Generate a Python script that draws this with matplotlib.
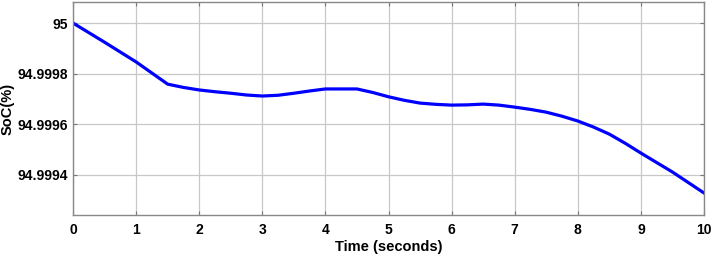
import matplotlib.pyplot as plt

# time (s) and state of charge (%)
time_s = [0, 0.5, 1, 1.5, 1.75, 2, 2.25, 2.5, 2.75, 3, 3.25, 3.5, 3.75, 4, 4.5,
          4.75, 5, 5.25, 5.5, 5.75, 6, 6.25, 6.5, 6.75, 7, 7.25, 7.5, 7.75, 8,
          8.25, 8.5, 8.75, 9, 9.5, 10]
soc = [95.0, 94.999924, 94.999846, 94.999758, 94.999745, 94.999735, 94.999728,
       94.999722, 94.999715, 94.999711, 94.999714, 94.999722, 94.999731, 94.999739,
       94.999739, 94.999725, 94.999708, 94.999694, 94.999683, 94.999678, 94.999675,
       94.999676, 94.999679, 94.999675, 94.999667, 94.999658, 94.999647, 94.999631,
       94.999612, 94.999588, 94.999560, 94.999524, 94.999485, 94.999410, 94.999327]
x_ticks = list(range(0, 11))
y_ticks = [94.9994, 94.9996, 94.9998, 95.0]
y_labels = ["94.9994", "94.9996", "94.9998", "95"]

plt.rcParams['font.family'] = ['Liberation Sans', 'DejaVu Sans']

fig = plt.figure(figsize=(7.13, 2.59), dpi=100)
ax = fig.add_axes([0.1024, 0.170, 0.885, 0.822])

ax.plot(time_s, soc, color='#0000ff', linewidth=2.3)

ax.set_xlim(0, 10)
ax.set_ylim(94.99924, 95.000083)
ax.set_xticks(x_ticks)
ax.set_yticks(y_ticks)
ax.set_yticklabels(y_labels)

ax.grid(True, color='#c8c8c8', linewidth=0.9)
ax.tick_params(direction='in', length=3, color='#777777', top=True, right=True,
               labelsize=10)
ax.tick_params(axis='y', pad=3.5)
ax.tick_params(axis='x', pad=6)
for lab in ax.get_xticklabels() + ax.get_yticklabels():
    lab.set_fontweight('bold')
for sp in ax.spines.values():
    sp.set_color('#888888')
    sp.set_linewidth(1.0)

ax.set_xlabel('Time (seconds)', fontsize=10.5, fontweight='bold', labelpad=2)
ax.set_ylabel('SoC(%)', fontsize=10.5, fontweight='bold', labelpad=2)

fig.savefig('out.png', dpi=100)
